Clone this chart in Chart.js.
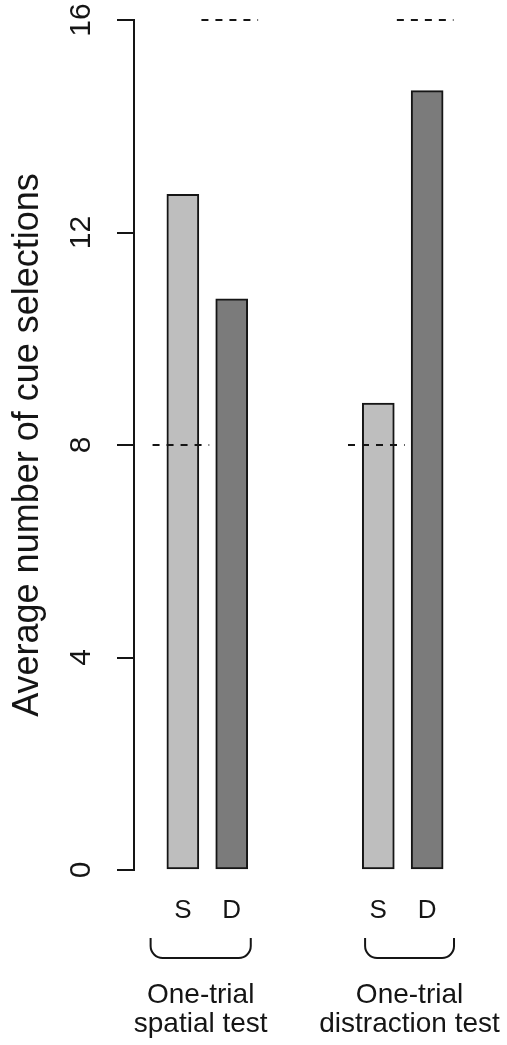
<!DOCTYPE html>
<html>
<head>
<meta charset="utf-8">
<title>Average number of cue selections</title>
<script src="https://cdn.jsdelivr.net/npm/chart.js@4.4.1/dist/chart.umd.min.js"></script>
<style>
  html, body { margin: 0; padding: 0; background: #ffffff; }
  #wrap { position: relative; width: 507px; height: 1045px; }
</style>
</head>
<body>
<div id="wrap"><canvas id="cues"></canvas></div>
<script>
// ---- data ----
const conditions = ['S', 'D', 'S', 'D'];
const testNames = [['One-trial', 'spatial test'], ['One-trial', 'distraction test']];
const meanSelections = [12.72, 10.75, 8.79, 14.67];
const chanceLevels = [8, 16, 8, 16];
const yTickValues = [0, 4, 8, 12, 16];
const yTitle = 'Average number of cue selections';

// ---- styling ----
const FONT = '"Liberation Sans", Arial, Helvetica, sans-serif';
const INK = '#151515';
const LINE_W = 2;
const BAR_FILLS = { S: '#bebebe', D: '#7b7b7b' };
// bracket extents (in category slots) relative to the S and D slots of each test
const BRACKET_SPAN = [[-0.66, 0.39], [-0.27, 0.55]];

// slot layout: an empty slot at each end and two between the tests
const slotLabels = [''];
const slotValues = [null];
const slotFills = ['rgba(0,0,0,0)'];
const slotChance = [null];
const groupSlots = [];
conditions.forEach((c, i) => {
  if (i > 0 && i % 2 === 0) { slotLabels.push('', ''); slotValues.push(null, null); slotFills.push('rgba(0,0,0,0)', 'rgba(0,0,0,0)'); slotChance.push(null, null); }
  if (i % 2 === 0) groupSlots.push([slotLabels.length, slotLabels.length + 1]);
  slotLabels.push(c);
  slotValues.push(meanSelections[i]);
  slotFills.push(BAR_FILLS[c]);
  slotChance.push(chanceLevels[i]);
});
slotLabels.push(''); slotValues.push(null); slotFills.push('rgba(0,0,0,0)'); slotChance.push(null);

// dashed chance-level segments over each bar
const chanceMarks = {
  id: 'chanceMarks',
  afterDatasetsDraw(chart) {
    const { ctx, scales: { x, y } } = chart;
    ctx.save();
    ctx.strokeStyle = INK;
    ctx.lineWidth = LINE_W;
    ctx.setLineDash([7, 7]);
    slotChance.forEach((lvl, i) => {
      if (lvl === null) return;
      const py = Math.round(y.getPixelForValue(lvl));
      ctx.beginPath();
      ctx.moveTo(x.getPixelForValue(i - 0.62), py);
      ctx.lineTo(x.getPixelForValue(i + 0.54), py);
      ctx.stroke();
    });
    ctx.restore();
  }
};

// brackets joining S and D of each test, with the test names below
const testBrackets = {
  id: 'testBrackets',
  afterDraw(chart) {
    const { ctx, chartArea, scales: { x } } = chart;
    const top = chartArea.bottom + 68;
    const bottom = chartArea.bottom + 88;
    const r = 12;
    ctx.save();
    groupSlots.forEach(([s, d], g) => {
      const left = x.getPixelForValue(s + BRACKET_SPAN[g][0]);
      const right = x.getPixelForValue(d + BRACKET_SPAN[g][1]);
      ctx.strokeStyle = INK;
      ctx.lineWidth = LINE_W;
      ctx.beginPath();
      ctx.moveTo(left, top);
      ctx.lineTo(left, bottom - r);
      ctx.arcTo(left, bottom, left + r, bottom, r);
      ctx.lineTo(right - r, bottom);
      ctx.arcTo(right, bottom, right, bottom - r, r);
      ctx.lineTo(right, top);
      ctx.stroke();

      const cx = (left + right) / 2;
      ctx.fillStyle = INK;
      ctx.font = '28px ' + FONT;
      ctx.textAlign = 'center';
      ctx.textBaseline = 'alphabetic';
      testNames[g].forEach((line, k) => {
        ctx.fillText(line, cx, chartArea.bottom + 133 + k * 29);
      });
    });
    ctx.restore();
  }
};

new Chart(document.getElementById('cues'), {
  type: 'bar',
  data: {
    labels: slotLabels,
    datasets: [{
      data: slotValues,
      backgroundColor: slotFills,
      borderColor: INK,
      borderWidth: LINE_W,
      borderSkipped: false,
      barThickness: 32
    }]
  },
  options: {
    responsive: true,
    maintainAspectRatio: false,
    animation: false,
    events: [],
    layout: { padding: { top: 20, right: 31, bottom: 0, left: 0 } },
    plugins: { legend: { display: false }, tooltip: { enabled: false } },
    scales: {
      x: {
        type: 'category',
        offset: false,
        grid: { display: false, drawTicks: false },
        border: { display: false },
        ticks: {
          color: INK,
          font: { family: FONT, size: 26 },
          padding: 25,
          autoSkip: false,
          maxRotation: 0,
          minRotation: 0
        },
        afterFit(scale) { scale.height = 175; scale.paddingLeft = 0; scale.paddingRight = 0; }
      },
      y: {
        min: 0,
        max: 16,
        afterBuildTicks(scale) { scale.ticks = yTickValues.map(v => ({ value: v })); },
        grid: {
          drawOnChartArea: false,
          drawTicks: true,
          tickLength: 17,
          color: INK,
          lineWidth: LINE_W
        },
        border: { display: true, color: INK, width: LINE_W },
        ticks: {
          color: INK,
          font: { family: FONT, size: 30 },
          padding: 19,
          autoSkip: false,
          minRotation: 90,
          maxRotation: 90,
          crossAlign: 'center',
          callback: (v) => String(v)
        },
        title: {
          display: true,
          text: yTitle,
          color: INK,
          font: { family: FONT, size: 36 },
          padding: { top: 6, bottom: 0 }
        },
        afterFit(scale) { scale.width = 134; scale.paddingTop = 0; scale.paddingBottom = 0; }
      }
    }
  },
  plugins: [chanceMarks, testBrackets]
});
</script>
</body>
</html>
